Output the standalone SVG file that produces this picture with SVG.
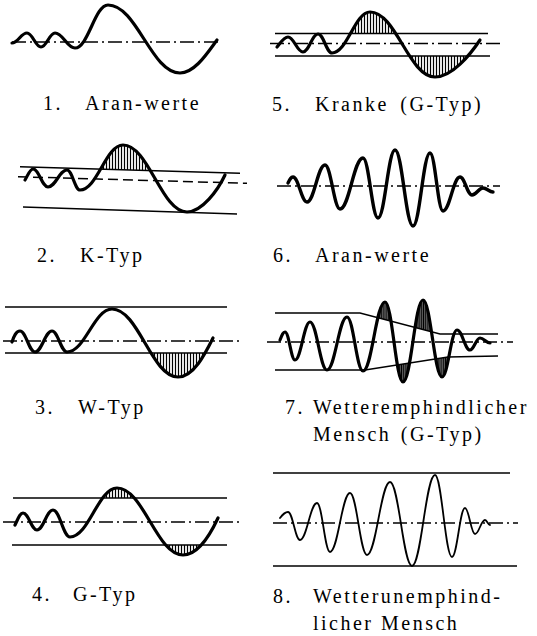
<svg xmlns="http://www.w3.org/2000/svg" width="537" height="636" viewBox="0 0 537 636" font-family="'Liberation Serif', 'DejaVu Serif', serif">
<style>
.w{fill:none;stroke:#000;stroke-width:3.2;stroke-linecap:round;stroke-linejoin:round}
.wt{fill:none;stroke:#000;stroke-width:1.8;stroke-linecap:round;stroke-linejoin:round}
.ln{fill:none;stroke:#000;stroke-width:1.4}
.dd{fill:none;stroke:#000;stroke-width:1.5;stroke-dasharray:14 4 2 4}
.ds{fill:none;stroke:#000;stroke-width:1.5;stroke-dasharray:10 5}
.h{fill:url(#hatch);stroke:none}
.hd{fill:url(#hatchd);stroke:none}
.t{font-family:'Liberation Serif','DejaVu Serif',serif;font-size:20px;fill:#000;letter-spacing:2.5px}
</style>
<defs>
<pattern id="hatch" patternUnits="userSpaceOnUse" width="3" height="10"><line x1="1.5" y1="0" x2="1.5" y2="10" stroke="#000" stroke-width="1.2"/></pattern>
<pattern id="hatchd" patternUnits="userSpaceOnUse" width="2.2" height="10"><line x1="1.1" y1="0" x2="1.1" y2="10" stroke="#000" stroke-width="1.7"/></pattern>
<clipPath id="c5u"><rect x="260" y="0" width="277" height="33.5"/></clipPath>
<clipPath id="c5l"><rect x="260" y="56" width="277" height="60"/></clipPath>
<clipPath id="c2u"><path d="M0,100 H260 V173.9 L0,166.1 Z"/></clipPath>
<clipPath id="c3l"><rect x="0" y="353" width="260" height="40"/></clipPath>
<clipPath id="c4u"><rect x="0" y="470" width="260" height="28"/></clipPath>
<clipPath id="c4l"><rect x="0" y="545" width="260" height="30"/></clipPath>
<clipPath id="c7u"><path d="M260,280 L520,280 L520,334 L440,334 L360,313 L260,313 Z"/></clipPath>
<clipPath id="c7l"><path d="M260,370 L365,370 L448,357 L520,357 L520,400 L260,400 Z"/></clipPath>
</defs>
<rect width="537" height="636" fill="#fff"/>

<g id="panel1">
<line class="dd" x1="12" y1="42" x2="222" y2="42"/>
<path class="w" d="M12,43 C18,43 21,33 27,33 C32.6,33 35.4,47 41,47 C46.6,47 49.4,33 55,33 C63,33 67,48 75,48 C88.2,48 94.8,5 108,5 C136.8,5 151.2,73 180,73 C195,73 208,52 217,40"/>
<text class="t" x="43" y="110">1.</text>
<text class="t" x="85" y="110">Aran-werte</text>
</g>

<g id="panel5">
<path class="h" clip-path="url(#c5u)" d="M332,53 C347.2,53 354.8,12 370,12 C396,12 409,77 435,77 Z"/>
<path class="h" clip-path="url(#c5l)" d="M370,12 C396,12 409,77 435,77 C452,77 470,55 480,40 Z"/>
<line class="ln" x1="275" y1="33.5" x2="488" y2="33.5"/>
<line class="dd" x1="270" y1="43.5" x2="502" y2="43.5"/>
<line class="ln" x1="275" y1="56" x2="490" y2="56"/>
<path class="w" d="M277,47 C281,42 284,37 288,37 C294,37 297,52 303,52 C309,52 312,34 318,34 C323.6,34 326.4,53 332,53 C347.2,53 354.8,12 370,12 C396,12 409,77 435,77 C452,77 470,55 480,40"/>
<text class="t" x="272" y="111">5.</text>
<text class="t" x="315" y="111">Kranke <tspan dx="4">(G-Typ)</tspan></text>
</g>

<g id="panel2">
<path class="h" clip-path="url(#c2u)" d="M80,190 C97.2,190 105.8,145 123,145 C148.6,145 161.4,212 187,212 Z"/>
<line class="ln" x1="20" y1="166.7" x2="240" y2="173.3"/>
<line class="ds" x1="18" y1="176.7" x2="247" y2="183.3"/>
<line class="ln" x1="23" y1="207" x2="237" y2="214"/>
<path class="w" d="M25,180 C28,175 30,169 33,169 C39,169 42,187 48,187 C55.6,187 59.4,170 67,170 C72.2,170 74.8,190 80,190 C97.2,190 105.8,145 123,145 C148.6,145 161.4,212 187,212 C202,212 218,190 225,175"/>
<text class="t" x="37" y="262">2.</text>
<text class="t" x="80" y="262">K-Typ</text>
</g>

<g id="panel6">
<line class="dd" x1="277" y1="186" x2="500" y2="186"/>
<path class="w" style="stroke-width:3.4" d="M288,183 C290,179 291,177 293,177 C298.6,177 301.4,202 307,202 C314.2,202 317.8,165 325,165 C331,165 334,209 340,209 C349.2,209 353.8,158 363,158 C369,158 372,218 378,218 C384.8,218 388.2,150 395,150 C402.2,150 405.8,226 413,226 C419.8,226 423.2,153 430,153 C435.2,153 437.8,211 443,211 C449.8,211 453.2,177 460,177 C464.8,177 467.2,195 472,195 C476.4,195 478.6,188 483,188 C487,188 489,192 493,192"/>
<text class="t" x="273" y="262">6.</text>
<text class="t" x="315" y="262">Aran-werte</text>
</g>

<g id="panel3">
<path class="h" clip-path="url(#c3l)" d="M112,309 C138.4,309 151.6,377 178,377 C194,377 206,352 213,338 Z"/>
<line class="ln" x1="5" y1="307" x2="227" y2="307"/>
<line class="dd" x1="3" y1="341" x2="240" y2="341"/>
<line class="ln" x1="5" y1="353" x2="227" y2="353"/>
<path class="w" d="M12,342 C14,336 16,331 20,331 C26,331 29,352 35,352 C41.8,352 45.2,331 52,331 C58,331 61,352 67,352 C85,352 94,309 112,309 C138.4,309 151.6,377 178,377 C194,377 206,352 213,338"/>
<text class="t" x="35" y="414">3.</text>
<text class="t" x="78" y="414">W-Typ</text>
</g>

<g id="panel7">
<path class="hd" clip-path="url(#c7u)" d="M363,371 C371.8,371 376.2,302 385,302 C392.2,302 395.8,382 403,382 C411,382 415,300 423,300 C430.6,300 434.4,377 442,377 Z"/>
<path class="hd" clip-path="url(#c7l)" d="M385,302 C392.2,302 395.8,382 403,382 C411,382 415,300 423,300 C430.6,300 434.4,377 442,377 C448,377 451,330 457,330 Z"/>
<polyline class="ln" points="275,313 360,313 440,334 498,334"/>
<line class="dd" x1="267" y1="342" x2="513" y2="342"/>
<polyline class="ln" points="275,370 365,370 448,357 498,356"/>
<path class="w" d="M280,340 C282,335 283,332 285,332 C289,332 291,360 295,360 C301,360 304,322 310,322 C316.8,322 320.2,370 327,370 C335,370 339,317 347,317 C353.4,317 356.6,371 363,371 C371.8,371 376.2,302 385,302 C392.2,302 395.8,382 403,382 C411,382 415,300 423,300 C430.6,300 434.4,377 442,377 C448,377 451,330 457,330 C462.2,330 464.8,350 470,350 C474,350 476,338 480,338 C484,338 486,343 490,343"/>
<text class="t" x="285" y="414">7.</text>
<text class="t" x="313" y="414">Wetteremphindlicher</text>
<text class="t" x="313" y="441">Mensch <tspan dx="2">(G-Typ)</tspan></text>
</g>

<g id="panel4">
<path class="h" clip-path="url(#c4u)" d="M70,537 C88.8,537 98.2,488 117,488 C143.4,488 156.6,555 183,555 Z"/>
<path class="h" clip-path="url(#c4l)" d="M117,488 C143.4,488 156.6,555 183,555 C199,555 211,533 218,518 Z"/>
<line class="ln" x1="13" y1="498" x2="227" y2="498"/>
<line class="dd" x1="3" y1="522" x2="240" y2="522"/>
<line class="ln" x1="12" y1="545" x2="227" y2="545"/>
<path class="w" d="M15,525 C18,519 20,513 23,513 C28.6,513 31.4,530 37,530 C43.4,530 46.6,510 53,510 C59.8,510 63.2,537 70,537 C88.8,537 98.2,488 117,488 C143.4,488 156.6,555 183,555 C199,555 211,533 218,518"/>
<text class="t" x="32" y="601">4.</text>
<text class="t" x="73" y="601">G-Typ</text>
</g>

<g id="panel8">
<line class="ln" x1="273" y1="473" x2="510" y2="473"/>
<line class="dd" x1="273" y1="523" x2="518" y2="523"/>
<line class="ln" x1="273" y1="566" x2="517" y2="566"/>
<path class="wt" d="M280,518 C283,514 285,512 288,512 C292.8,512 295.2,540 300,540 C306.8,540 310.2,503 317,503 C322.2,503 324.8,552 330,552 C338,552 342,493 350,493 C356.8,493 360.2,555 367,555 C376.2,555 380.8,482 390,482 C398.8,482 403.2,566 412,566 C421.2,566 425.8,475 435,475 C441.8,475 445.2,557 452,557 C457.2,557 459.8,508 465,508 C469,508 471,534 475,534 C479,534 481,520 485,520 C487,520 488,525 490,525"/>
<text class="t" x="273" y="603">8.</text>
<text class="t" x="313" y="603">Wetterunemphind-</text>
<text class="t" x="313" y="630">licher Mensch</text>
</g>
</svg>
